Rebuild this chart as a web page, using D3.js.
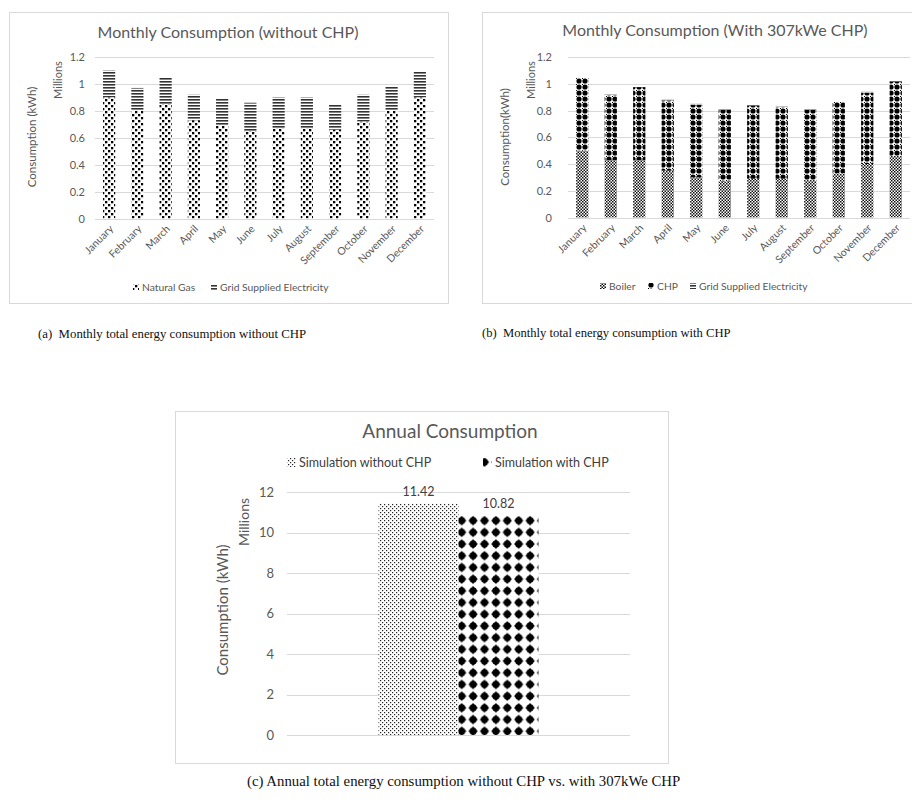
<!DOCTYPE html>
<html><head><meta charset="utf-8">
<script src="https://cdn.jsdelivr.net/npm/d3@7"></script>
<style>body{margin:0;background:#fff;} svg{display:block;font-family:Lato,"Open Sans",sans-serif;}</style>
</head><body>
<svg id="c" width="912" height="806"></svg>
<script>
// ---------- DATA ----------
const months = ["January","February","March","April","May","June","July","August","September","October","November","December"];
// Chart (a): without CHP (millions kWh)
const naturalGas = [0.90,0.80,0.85,0.73,0.69,0.65,0.67,0.67,0.66,0.72,0.80,0.90];
const gridNoCHP  = [0.20,0.17,0.20,0.19,0.20,0.21,0.23,0.23,0.19,0.20,0.18,0.19];
// Chart (b): with 307kWe CHP
const boiler  = [0.50,0.43,0.43,0.35,0.30,0.27,0.29,0.29,0.28,0.33,0.40,0.46];
const chp     = [0.545,0.485,0.545,0.525,0.545,0.535,0.545,0.535,0.525,0.535,0.535,0.555];
const gridCHP = [0.005,0.005,0.005,0.005,0.005,0.005,0.005,0.005,0.005,0.005,0.005,0.005];
// Chart (c): annual
const annualSeries = ["Simulation without CHP","Simulation with CHP"];
const annualValues = [11.42,10.82];
const ticksMonthly = [0,0.2,0.4,0.6,0.8,1,1.2];
const ticksAnnual = [0,2,4,6,8,10,12];

const svg = d3.select("#c");
const defs = svg.append("defs");
const TXT = "#595959", GRID = "#d9d9d9";

// ---------- PATTERNS ----------
function pat(id,w,h,draw){const p=defs.append("pattern").attr("id",id).attr("patternUnits","userSpaceOnUse").attr("width",w).attr("height",h);p.append("rect").attr("width",w).attr("height",h).attr("fill","#fff");draw(p);}
pat("pGas",6,6,p=>{p.append("rect").attr("x",0).attr("y",0).attr("width",2.3).attr("height",2.3).attr("fill","#000");p.append("rect").attr("x",3).attr("y",3).attr("width",2.3).attr("height",2.3).attr("fill","#000");});
pat("pGrid",3,3,p=>{p.append("rect").attr("x",0).attr("y",0).attr("width",3).attr("height",1.6).attr("fill","#333");});
pat("pBoiler",3,3,p=>{p.append("rect").attr("width",1.5).attr("height",1.5).attr("fill","#111");p.append("rect").attr("x",1.5).attr("y",1.5).attr("width",1.5).attr("height",1.5).attr("fill","#111");});
pat("pCHP",6,6,p=>{p.append("circle").attr("cx",3).attr("cy",3).attr("r",2.6).attr("fill","#000");p.append("rect").attr("x",0).attr("y",0).attr("width",1).attr("height",1).attr("fill","#000");});
pat("pSimNo",4,4,p=>{p.append("rect").attr("x",0).attr("y",0).attr("width",1.2).attr("height",1.2).attr("fill","#222");p.append("rect").attr("x",2).attr("y",2).attr("width",1.2).attr("height",1.2).attr("fill","#222");});
pat("pSimYes",11.4,11.7,p=>{p.append("path").attr("d","M5.7,0.8 Q7,4.5 10.6,5.85 Q7,7.2 5.7,10.9 Q4.4,7.2 0.8,5.85 Q4.4,4.5 5.7,0.8Z").attr("fill","#000");p.append("circle").attr("cx",5.7).attr("cy",5.85).attr("r",3.6).attr("fill","#000");});

// ---------- MONTHLY CHART HELPER ----------
function monthly(cfg){
  const g = svg.append("g");
  g.append("rect").attr("x",cfg.fx).attr("y",cfg.fy).attr("width",cfg.fw).attr("height",cfg.fh).attr("fill","#fff").attr("stroke",GRID).attr("stroke-width",1);
  const x = d3.scaleBand().domain(months).range([cfg.x0,cfg.x1]).paddingInner(0.57).paddingOuter(0.285);
  const y = d3.scaleLinear().domain([0,1.2]).range([cfg.y0,cfg.y1]);
  g.append("g").selectAll("line").data(ticksMonthly).join("line")
    .attr("x1",cfg.x0).attr("x2",cfg.x1).attr("y1",d=>Math.round(y(d))+0.5).attr("y2",d=>Math.round(y(d))+0.5)
    .attr("stroke",GRID).attr("stroke-width",1);
  const ya = g.append("g").attr("transform",`translate(${cfg.x0},0)`).call(d3.axisLeft(y).tickValues(ticksMonthly).tickSize(0).tickPadding(cfg.tickPad).tickFormat(d3.format("~g")));
  ya.select(".domain").remove();
  ya.selectAll("text").attr("fill",TXT).style("font-size","11px").style("font-family","Lato,sans-serif");
  const stack = d3.stack().keys(cfg.keys.map((k,i)=>i));
  const rows = months.map((m,i)=>{const o={m}; cfg.series.forEach((s,j)=>o[j]=s[i]); return o;});
  const layers = stack(rows);
  layers.forEach((L,j)=>{
    g.append("g").selectAll("rect").data(L).join("rect")
      .attr("x",d=>x(d.data.m)).attr("width",x.bandwidth())
      .attr("y",d=>y(d[1])).attr("height",d=>y(d[0])-y(d[1]))
      .attr("fill",`url(#${cfg.fills[j]})`);
  });
  const xa = g.append("g").attr("transform",`translate(0,${cfg.y0})`).call(d3.axisBottom(x).tickSize(0).tickPadding(0));
  xa.select(".domain").remove();
  xa.selectAll("text").attr("fill",TXT).style("font-size","10.5px").style("font-family","Lato,sans-serif")
    .attr("text-anchor","end").attr("dy",0).attr("transform","translate(5,11) rotate(-45)");
  g.append("text").attr("x",cfg.titleX).attr("y",cfg.titleY).attr("text-anchor","middle").attr("fill",TXT).style("font-size","16px").text(cfg.title);
  g.append("text").attr("transform",`translate(${cfg.milX},${cfg.milY}) rotate(-90)`).attr("text-anchor","middle").attr("fill",TXT).style("font-size","11px").text("Millions");
  g.append("text").attr("transform",`translate(${cfg.axX},${cfg.axY}) rotate(-90)`).attr("text-anchor","middle").attr("fill",TXT).style("font-size","11.5px").text(cfg.axTitle);
  const lg = g.append("g");
  cfg.legend.forEach((l,i)=>{
    lg.append("rect").attr("x",l.x).attr("y",cfg.legY-7).attr("width",6).attr("height",6).attr("fill",`url(#${l.fill})`);
    lg.append("text").attr("x",l.x+9).attr("y",cfg.legY).attr("fill",TXT).style("font-size","10.3px").text(l.label);
  });
}

monthly({fx:9.5,fy:12.5,fw:439,fh:291,x0:95,x1:434,y0:218.5,y1:57,tickPad:10,
  keys:["Natural Gas","Grid Supplied Electricity"],series:[naturalGas,gridNoCHP],fills:["pGas","pGrid"],
  title:"Monthly Consumption (without CHP)",titleX:228,titleY:38,milX:62,milY:80,axX:36,axY:137,axTitle:"Consumption (kWh)",
  legY:291,legend:[{x:133,fill:"pGas",label:"Natural Gas"},{x:211,fill:"pGrid",label:"Grid Supplied Electricity"}]});

monthly({fx:482.5,fy:12.5,fw:440,fh:291,x0:568,x1:910,y0:217.5,y1:57,tickPad:16,
  keys:["Boiler","CHP","Grid Supplied Electricity"],series:[boiler,chp,gridCHP],fills:["pBoiler","pCHP","pGrid"],
  title:"Monthly Consumption (With 307kWe CHP)",titleX:715,titleY:36,milX:535,milY:80,axX:509,axY:137,axTitle:"Consumption(kWh)",
  legY:290,legend:[{x:600,fill:"pBoiler",label:"Boiler"},{x:648,fill:"pCHP",label:"CHP"},{x:690,fill:"pGrid",label:"Grid Supplied Electricity"}]});

// captions
svg.append("text").attr("x",38).attr("y",338).attr("fill","#111").style("font-family","'Liberation Serif',serif").style("font-size","12.8px").style("white-space","pre").text("(a)  Monthly total energy consumption without CHP");
svg.append("text").attr("x",482).attr("y",337).attr("fill","#111").style("font-family","'Liberation Serif',serif").style("font-size","12.6px").style("white-space","pre").text("(b)  Monthly total energy consumption with CHP");

// ---------- ANNUAL CHART ----------
{
  const g = svg.append("g");
  g.append("rect").attr("x",175.5).attr("y",411.5).attr("width",493).attr("height",352).attr("fill","#fff").attr("stroke",GRID);
  const y = d3.scaleLinear().domain([0,12]).range([735,492]);
  const xc = d3.scaleBand().domain(["Annual"]).range([287,630]).padding(0.364);
  const xs = d3.scaleBand().domain(annualSeries).range([0,xc.bandwidth()]);
  g.append("g").selectAll("line").data(ticksAnnual).join("line")
    .attr("x1",287).attr("x2",630).attr("y1",d=>Math.round(y(d))+0.5).attr("y2",d=>Math.round(y(d))+0.5).attr("stroke",GRID);
  const ya = g.append("g").attr("transform","translate(287,0)").call(d3.axisLeft(y).tickValues(ticksAnnual).tickSize(0).tickPadding(13));
  ya.select(".domain").remove();
  ya.selectAll("text").attr("fill",TXT).style("font-size","13px").style("font-family","Lato,sans-serif");
  const fills = ["pSimNo","pSimYes"];
  g.append("g").selectAll("rect").data(annualValues).join("rect")
    .attr("x",(d,i)=>xc("Annual")+xs(annualSeries[i])).attr("width",xs.bandwidth())
    .attr("y",d=>y(d)).attr("height",d=>y(0)-y(d)).attr("fill",(d,i)=>`url(#${fills[i]})`);
  g.append("g").selectAll("text").data(annualValues).join("text")
    .attr("x",(d,i)=>xc("Annual")+xs(annualSeries[i])+xs.bandwidth()/2).attr("y",d=>y(d)-8)
    .attr("text-anchor","middle").attr("fill","#404040").style("font-size","12.5px").text(d=>d.toFixed(2));
  g.append("text").attr("x",450).attr("y",438).attr("text-anchor","middle").attr("fill",TXT).style("font-size","19px").text("Annual Consumption");
  g.append("text").attr("transform","translate(249,522) rotate(-90)").attr("text-anchor","middle").attr("fill",TXT).style("font-size","14px").text("Millions");
  g.append("text").attr("transform","translate(228,610) rotate(-90)").attr("text-anchor","middle").attr("fill",TXT).style("font-size","15px").text("Consumption (kWh)");
  const leg = [{x:287,fill:"pSimNo",label:annualSeries[0]},{x:483,fill:"pSimYes",label:annualSeries[1]}];
  leg.forEach(l=>{
    g.append("rect").attr("x",l.x).attr("y",458).attr("width",9).attr("height",9).attr("fill",`url(#${l.fill})`);
    g.append("text").attr("x",l.x+12).attr("y",467).attr("fill","#404040").style("font-size","12.5px").text(l.label);
  });
  svg.append("text").attr("x",247).attr("y",786).attr("fill","#111").style("font-family","'Liberation Serif',serif").style("font-size","14.8px").text("(c) Annual total energy consumption without CHP vs. with 307kWe CHP");
}
</script>
</body></html>
